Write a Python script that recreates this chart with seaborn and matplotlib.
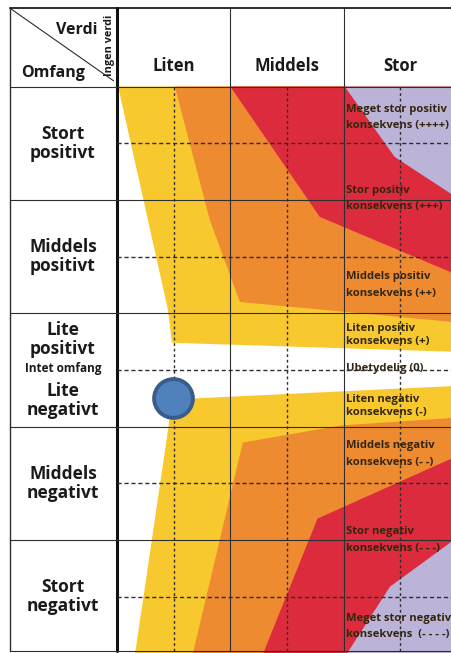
import matplotlib
matplotlib.use("Agg")
import matplotlib.pyplot as plt
import seaborn as sns

# --- data lest av figuren (x = verdi, y = omfang) ---
verdi = ["Liten", "Middels", "Stor"]
verdi_x = [0.5, 1.5, 2.5]
omfang = ["Stort\npositivt", "Middels\npositivt", "Lite\npositivt",
          "Lite\nnegativt", "Middels\nnegativt", "Stort\nnegativt"]
omfang_y = [2.0, 1.0, 0.27, -0.27, -1.0, -2.0]
konsekvens = ["Meget stor positiv\nkonsekvens (++++)",
              "Stor positiv\nkonsekvens (+++)",
              "Middels positiv\nkonsekvens (++)",
              "Liten positiv\nkonsekvens (+)",
              "Ubetydelig (0)",
              "Liten negativ\nkonsekvens (-)",
              "Middels negativ\nkonsekvens (- -)",
              "Stor negativ\nkonsekvens (- - -)",
              "Meget stor negativ\nkonsekvens  (- - - -)"]
konsekvens_y = [2.23, 1.51, 0.75, 0.31, 0.01, -0.32, -0.74, -1.5, -2.26]

# fargefelt (hjørnepunkter)
gul_pos = [(0.01, 2.5), (0.45, 0.53), (0.485, 0.24), (3.0, 0.16), (3.0, 2.5)]
gul_neg = [(0.485, -0.26), (3.0, -0.14), (3.0, -2.5), (0.16, -2.5), (0.45, -0.53)]
oransje_pos = [(0.51, 2.5), (0.82, 1.32), (1.085, 0.60), (3.0, 0.42), (3.0, 2.5)]
oransje_neg = [(1.11, -0.64), (1.97, -0.49), (3.0, -0.42), (3.0, -2.5), (0.67, -2.5)]
rod_pos = [(1.0, 2.5), (1.79, 1.35), (3.0, 0.84), (3.0, 2.5)]
rod_neg = [(1.77, -1.31), (3.0, -0.76), (3.0, -2.5), (1.29, -2.5)]
lilla_pos = [(2.01, 2.5), (2.45, 1.88), (3.0, 1.52), (3.0, 2.5)]
lilla_neg = [(2.03, -2.5), (2.41, -1.91), (3.0, -1.48), (3.0, -2.5)]

punkt_x = [0.49]
punkt_y = [-0.25]

GUL, ORANSJE, ROD, LILLA = "#F8C92E", "#EE8A30", "#DC2B3D", "#BCB4D8"
LINJE = "#2e2e2e"
TEKST = "#33260f"


def lag_figur():
    sns.set_theme(style="white")
    plt.rcParams["font.family"] = ["Open Sans", "DejaVu Sans"]

    fig = plt.figure(figsize=(4.52, 6.53), dpi=100)
    ax = fig.add_axes([0, 0, 1, 1])
    ax.set_xlim(-1.0327, 2.9568)
    ax.set_ylim(-2.4956, 3.2628)
    ax.axis("off")

    # fargefelt
    for felt, farge in [(gul_pos, GUL), (gul_neg, GUL), (oransje_pos, ORANSJE),
                        (oransje_neg, ORANSJE), (rod_pos, ROD), (rod_neg, ROD),
                        (lilla_pos, LILLA), (lilla_neg, LILLA)]:
        xs, ys = zip(*felt)
        ax.fill(xs, ys, color=farge, lw=0, zorder=1)

    # tekst i høyre kolonne
    for tekst, y in zip(konsekvens, konsekvens_y):
        ls = 1.25 if "Liten" in tekst else 1.65
        ax.text(2.02, y, tekst, ha="left", va="center", fontsize=8.1,
                fontweight="bold", color=TEKST, linespacing=ls, zorder=2)

    # tabellrammer
    venstre, topp, bunn = -0.944, 3.19, -2.48
    ax.plot([venstre, 3], [topp, topp], color=LINJE, lw=1.4, zorder=4)
    ax.plot([venstre, venstre], [bunn, topp], color=LINJE, lw=1.0, zorder=4)
    ax.plot([0, 0], [bunn, topp], color="#111111", lw=2.2, zorder=4)
    for x in [1, 2]:
        ax.plot([x, x], [bunn, topp], color=LINJE, lw=0.8, zorder=4)
    for y in [2.5, 1.5, 0.5, -0.5, -1.5, bunn]:
        ax.plot([venstre, 3], [y, y], color=LINJE, lw=0.8, zorder=4)
    ax.plot([venstre, -0.03], [topp, 2.55], color=LINJE, lw=0.8, zorder=4)

    # stiplede hjelpelinjer
    for y in [2, 1, 0, -1, -2]:
        ax.plot([0, 3], [y, y], color=LINJE, lw=1.0, ls=(0, (3, 2)), zorder=4)
    for x in verdi_x:
        ax.plot([x, x], [bunn, 2.5], color=LINJE, lw=1.0, ls=(0, (2, 2)), zorder=4)

    # overskrifter
    for tekst, x in zip(verdi, verdi_x):
        ax.text(x, 2.68, tekst, ha="center", va="center", fontsize=12,
                fontweight="bold", color="#1a1a1a")
    ax.text(-0.17, 3.0, "Verdi", ha="right", va="center", fontsize=11.5,
            fontweight="bold", color="#1a1a1a")
    ax.text(-0.85, 2.62, "Omfang", ha="left", va="center", fontsize=11.5,
            fontweight="bold", color="#1a1a1a")
    ax.text(-0.062, 2.866, "Ingen verdi", ha="center", va="center",
            fontsize=7.8, fontweight="bold", rotation=90, color="#1a1a1a")

    # radetiketter
    for tekst, y in zip(omfang, omfang_y):
        ax.text(-0.477, y, tekst, ha="center", va="center", fontsize=12.5,
                fontweight="bold", color="#1a1a1a", linespacing=1.1)
    ax.text(-0.477, 0.01, "Intet omfang", ha="center", va="center",
            fontsize=8.5, fontweight="bold", color="#1a1a1a")

    # blått punkt
    sns.scatterplot(x=punkt_x, y=punkt_y, s=780, color="#4F81BD",
                    edgecolor="#385D8A", linewidth=2.8, zorder=6, ax=ax,
                    legend=False)

    fig.savefig("out.png", dpi=100)


if __name__ == "__main__":
    lag_figur()
